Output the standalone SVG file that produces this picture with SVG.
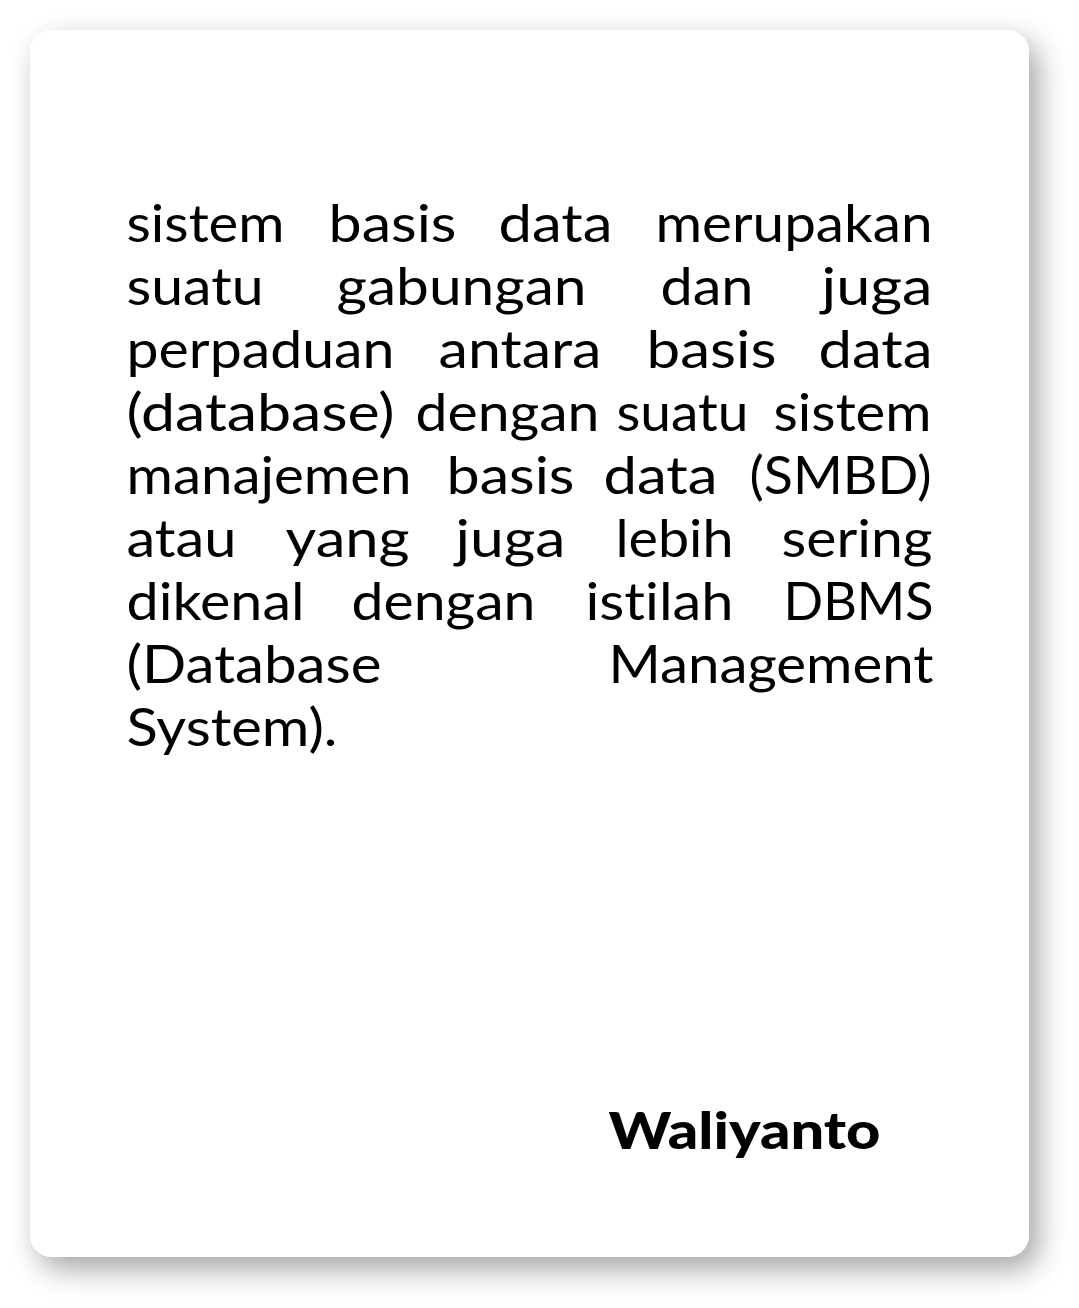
<svg xmlns="http://www.w3.org/2000/svg" width="1079" height="1308" viewBox="0 0 1079 1308">
  <defs>
    <filter id="shadow" x="-10%" y="-10%" width="125%" height="125%">
      <feGaussianBlur in="SourceAlpha" stdDeviation="15"/>
      <feOffset dx="9" dy="12" result="b"/>
      <feComponentTransfer><feFuncA type="linear" slope="0.36"/></feComponentTransfer>
      <feMerge><feMergeNode/><feMergeNode in="SourceGraphic"/></feMerge>
    </filter>
    <style>
      .body { font-family: Lato, "Open Sans", "Liberation Sans", sans-serif; font-size: 52px; fill: #000; font-variant-ligatures: none; font-feature-settings: "liga" 0, "clig" 0; }
      .author { font-family: Lato, "Open Sans", "Liberation Sans", sans-serif; font-size: 51px; font-weight: 900; fill: #000; font-variant-ligatures: none; }
    </style>
  </defs>
  <rect x="0" y="0" width="1079" height="1308" fill="#ffffff"/>
  <g id="card">
    <rect x="30" y="30" width="999" height="1227" rx="22" ry="22" fill="#ffffff" filter="url(#shadow)"/>
  </g>
  <g id="quote" class="body">
    <text x="126.5" y="242" textLength="158" lengthAdjust="spacingAndGlyphs">sistem</text>
    <text x="328.5" y="242" textLength="128" lengthAdjust="spacingAndGlyphs">basis</text>
    <text x="498.5" y="242" textLength="114" lengthAdjust="spacingAndGlyphs">data</text>
    <text x="655.5" y="242" textLength="277" lengthAdjust="spacingAndGlyphs">merupakan</text>

    <text x="126.5" y="305" textLength="137" lengthAdjust="spacingAndGlyphs">suatu</text>
    <text x="336.5" y="305" textLength="250" lengthAdjust="spacingAndGlyphs">gabungan</text>
    <text x="660.5" y="305" textLength="93" lengthAdjust="spacingAndGlyphs">dan</text>
    <text x="821.5" y="305" textLength="111" lengthAdjust="spacingAndGlyphs">juga</text>

    <text x="126.5" y="368" textLength="268" lengthAdjust="spacingAndGlyphs">perpaduan</text>
    <text x="438.5" y="368" textLength="163" lengthAdjust="spacingAndGlyphs">antara</text>
    <text x="646.5" y="368" textLength="130" lengthAdjust="spacingAndGlyphs">basis</text>
    <text x="818.5" y="368" textLength="114" lengthAdjust="spacingAndGlyphs">data</text>

    <text x="126.5" y="431" textLength="268" lengthAdjust="spacingAndGlyphs">(database)</text>
    <text x="415.5" y="431" textLength="184" lengthAdjust="spacingAndGlyphs">dengan</text>
    <text x="616.5" y="431" textLength="132" lengthAdjust="spacingAndGlyphs">suatu</text>
    <text x="773.5" y="431" textLength="158" lengthAdjust="spacingAndGlyphs">sistem</text>

    <text x="126.5" y="494" textLength="285" lengthAdjust="spacingAndGlyphs">manajemen</text>
    <text x="446.5" y="494" textLength="128" lengthAdjust="spacingAndGlyphs">basis</text>
    <text x="603.5" y="494" textLength="114" lengthAdjust="spacingAndGlyphs">data</text>
    <text x="749.5" y="494" textLength="182" lengthAdjust="spacingAndGlyphs">(SMBD)</text>

    <text x="126.5" y="557" textLength="110" lengthAdjust="spacingAndGlyphs">atau</text>
    <text x="285.5" y="557" textLength="124" lengthAdjust="spacingAndGlyphs">yang</text>
    <text x="455.5" y="557" textLength="110" lengthAdjust="spacingAndGlyphs">juga</text>
    <text x="615.5" y="557" textLength="118" lengthAdjust="spacingAndGlyphs">lebih</text>
    <text x="781.5" y="557" textLength="151" lengthAdjust="spacingAndGlyphs">sering</text>

    <text x="126.5" y="620" textLength="178" lengthAdjust="spacingAndGlyphs">dikenal</text>
    <text x="351.5" y="620" textLength="184" lengthAdjust="spacingAndGlyphs">dengan</text>
    <text x="585.5" y="620" textLength="148" lengthAdjust="spacingAndGlyphs">istilah</text>
    <text x="783.5" y="620" textLength="150" lengthAdjust="spacingAndGlyphs">DBMS</text>

    <text x="126.5" y="683" textLength="255" lengthAdjust="spacingAndGlyphs">(Database</text>
    <text x="608.5" y="683" textLength="325" lengthAdjust="spacingAndGlyphs">Management</text>

    <text x="126.5" y="746" textLength="211" lengthAdjust="spacingAndGlyphs">System).</text>
  </g>
  <g id="author">
    <text class="author" x="608.5" y="1149" textLength="272" lengthAdjust="spacingAndGlyphs">Waliyanto</text>
  </g>
</svg>
